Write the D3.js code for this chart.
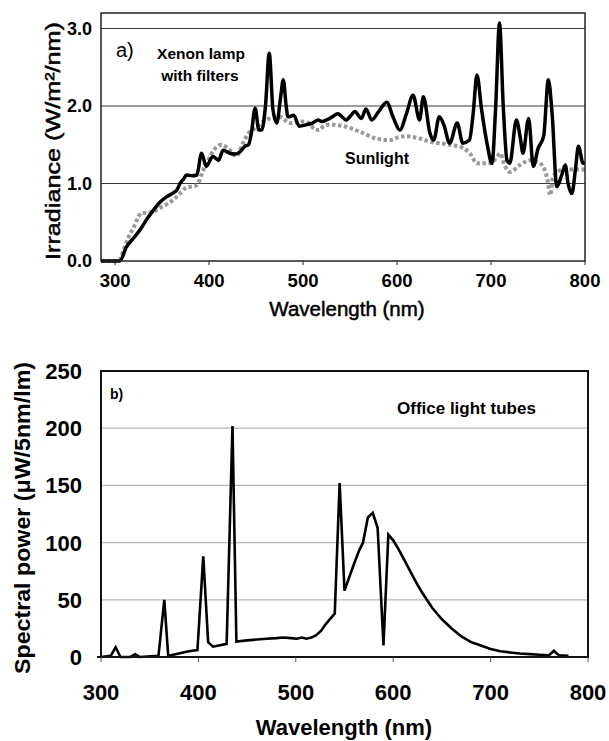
<!DOCTYPE html>
<html>
<head>
<meta charset="utf-8">
<script src="https://cdn.jsdelivr.net/npm/d3@7"></script>
<style>
body { margin: 0; background: #fff; }
svg { display: block; font-family: "Liberation Sans", Arial, sans-serif; }
</style>
</head>
<body>
<script>
// panel a: xenon lamp vs sunlight (W/m2/nm)
var xenonWl = [285, 300, 305, 312, 320, 327, 335, 341, 348, 355, 362, 366, 369, 373, 376, 382, 387, 392, 397, 404, 410, 415, 422, 428, 433, 438, 442, 445, 449, 453, 456, 460, 464, 468, 472, 476, 479, 482, 484, 490, 496, 504, 510, 516, 520, 525, 531, 537, 546, 551, 555, 562, 567, 573, 580, 589, 596, 603, 610, 617, 624, 628, 635, 639, 645, 650, 656, 664, 670, 677, 681, 685, 690, 696, 701, 705, 709, 713, 717, 720, 727, 731, 734, 740, 745, 750, 756, 761, 765, 770, 775, 779, 782, 786, 790, 793, 798, 800];
var xenonVal = [0, 0, 0, 0.18, 0.30, 0.41, 0.56, 0.66, 0.76, 0.83, 0.88, 0.92, 1.00, 1.06, 1.11, 1.10, 1.11, 1.39, 1.22, 1.35, 1.30, 1.43, 1.39, 1.38, 1.41, 1.48, 1.50, 1.65, 1.97, 1.69, 1.69, 2.00, 2.68, 1.95, 1.78, 2.10, 2.34, 2.00, 1.86, 1.88, 1.74, 1.76, 1.78, 1.82, 1.80, 1.82, 1.86, 1.90, 1.82, 1.88, 1.93, 1.84, 1.96, 1.82, 1.92, 2.05, 1.85, 1.69, 1.90, 2.14, 1.82, 2.12, 1.65, 1.56, 1.86, 1.75, 1.52, 1.78, 1.52, 1.56, 1.90, 2.40, 1.95, 1.50, 1.26, 2.00, 3.07, 2.00, 1.30, 1.26, 1.82, 1.60, 1.39, 1.84, 1.22, 1.45, 1.61, 2.34, 1.90, 0.96, 1.10, 1.24, 1.00, 0.87, 1.20, 1.48, 1.26, 1.26];

var sunWl = [285, 300, 305, 309, 314, 320, 324, 328, 334, 341, 350, 356, 362, 368, 375, 381, 387, 394, 399, 405, 413, 422, 429, 436, 442, 450, 458, 465, 475, 486, 500, 508, 512, 517, 522, 529, 543, 560, 578, 592, 602, 610, 624, 635, 656, 670, 678, 685, 699, 705, 710, 714, 720, 731, 741, 752, 757, 760, 763, 766, 777, 795, 800];
var sunVal = [0, 0, 0.02, 0.14, 0.30, 0.44, 0.55, 0.62, 0.62, 0.64, 0.70, 0.74, 0.79, 0.86, 0.94, 0.96, 0.98, 1.18, 1.30, 1.43, 1.50, 1.43, 1.35, 1.52, 1.65, 1.72, 1.80, 1.84, 1.86, 1.78, 1.80, 1.76, 1.70, 1.69, 1.74, 1.76, 1.74, 1.67, 1.58, 1.56, 1.60, 1.61, 1.58, 1.54, 1.50, 1.46, 1.38, 1.26, 1.26, 1.32, 1.39, 1.25, 1.15, 1.24, 1.30, 1.26, 1.18, 1.05, 0.85, 1.09, 1.18, 1.18, 1.18];

var aTicksX = [300, 400, 500, 600, 700, 800];
var aTicksY = [0, 1, 2, 3];

// panel b: office light tubes (uW/5nm/lm)
var tubeWl = [300, 310, 315, 320, 330, 335, 340, 359, 365, 369, 380, 390, 399, 405, 410, 415, 429, 435, 439, 450, 463, 470, 480, 487, 495, 501, 506, 511, 516, 521, 526, 531, 536, 540, 545, 550, 555, 560, 565, 569, 574, 579, 584, 590, 595, 600, 605, 610, 615, 620, 625, 630, 640, 650, 660, 670, 680, 690, 700, 710, 720, 730, 740, 750, 760, 765, 770, 780];
var tubeVal = [0, 1, 8.5, 0, 0, 2.5, 0, 1, 50, 1, 3, 5, 6, 88, 13, 9, 11.5, 202, 13.5, 14.5, 15.5, 16, 16.5, 17, 16.5, 16, 17, 16, 17, 19, 23, 29, 34, 38, 152, 58, 70, 82, 93, 100, 122, 126, 113, 10, 107, 102, 95, 87, 79, 71, 63, 56, 43, 33, 25, 18, 13, 10, 7, 5, 4, 3, 2.5, 2, 1.5, 5.5, 1.5, 1];

var bTicksX = [300, 400, 500, 600, 700, 800];
var bTicksY = [0, 50, 100, 150, 200, 250];

var svg = d3.select("body").append("svg")
    .attr("width", 609)
    .attr("height", 741);

// ---------- panel a ----------
var a = {left: 101, right: 585, top: 13, bottom: 261};

var ax = d3.scaleLinear().domain([285, 800]).range([a.left, a.right]);
var ay = d3.scaleLinear().domain([0, 3.2]).range([a.bottom, a.top]);

var ga = svg.append("g");

ga.selectAll("line.grid")
    .data(aTicksY.filter(d => d > 0))
    .enter().append("line")
    .attr("class", "grid")
    .attr("x1", a.left).attr("x2", a.right)
    .attr("y1", d => ay(d)).attr("y2", d => ay(d))
    .attr("stroke", "#3a3a3a")
    .attr("stroke-width", 1);

var xenon = xenonWl.map((w, i) => [w, xenonVal[i]]);
var sun = sunWl.map((w, i) => [w, sunVal[i]]);

var lineA = d3.line()
    .x(d => ax(d[0]))
    .y(d => ay(d[1]))
    .curve(d3.curveMonotoneX);

ga.append("path")
    .datum(sun)
    .attr("d", lineA)
    .attr("fill", "none")
    .attr("stroke", "#9a9a9a")
    .attr("stroke-width", 4)
    .attr("stroke-dasharray", "3.5,2.5");

ga.append("path")
    .datum(xenon)
    .attr("d", lineA)
    .attr("fill", "none")
    .attr("stroke", "#000")
    .attr("stroke-width", 3.5)
    .attr("stroke-linejoin", "round");

ga.append("rect")
    .attr("x", a.left).attr("y", a.top)
    .attr("width", a.right - a.left).attr("height", a.bottom - a.top)
    .attr("fill", "none")
    .attr("stroke", "#222")
    .attr("stroke-width", 1.5);

ga.selectAll("line.tick")
    .data(aTicksX)
    .enter().append("line")
    .attr("class", "tick")
    .attr("x1", d => ax(d)).attr("x2", d => ax(d))
    .attr("y1", a.bottom).attr("y2", a.bottom + 4)
    .attr("stroke", "#222");

ga.selectAll("text.xl")
    .data(aTicksX)
    .enter().append("text")
    .attr("class", "xl")
    .attr("x", d => ax(d))
    .attr("y", 287)
    .attr("text-anchor", "middle")
    .style("font-size", "18.5px")
    .style("font-weight", "bold")
    .text(d => d);

ga.selectAll("text.yl")
    .data(aTicksY)
    .enter().append("text")
    .attr("class", "yl")
    .attr("x", 92)
    .attr("y", d => ay(d))
    .attr("dy", "0.36em")
    .attr("text-anchor", "end")
    .style("font-size", "18px")
    .style("font-weight", "bold")
    .text(d => d3.format(".1f")(d));

// the scanned titles look heavier than plain regular weight
ga.append("text")
    .attr("x", 347).attr("y", 316)
    .attr("text-anchor", "middle")
    .attr("stroke", "#000").attr("stroke-width", 0.5)
    .style("font-size", "20.5px")
    .text("Wavelength (nm)");

ga.append("text")
    .attr("transform", "translate(60,141) rotate(-90)")
    .attr("text-anchor", "middle")
    .attr("textLength", 238)
    .attr("lengthAdjust", "spacingAndGlyphs")
    .attr("stroke", "#000").attr("stroke-width", 0.5)
    .style("font-size", "21px")
    .text("Irradiance (W/m²/nm)");

ga.append("text")
    .attr("x", 116).attr("y", 57)
    .style("font-size", "20px")
    .text("a)");

ga.append("text")
    .attr("x", 201).attr("y", 59)
    .attr("text-anchor", "middle")
    .style("font-size", "15.5px")
    .style("font-weight", "bold")
    .text("Xenon lamp");

ga.append("text")
    .attr("x", 200).attr("y", 81)
    .attr("text-anchor", "middle")
    .style("font-size", "15.5px")
    .style("font-weight", "bold")
    .text("with filters");

ga.append("text")
    .attr("x", 345).attr("y", 164)
    .style("font-size", "16px")
    .style("font-weight", "bold")
    .text("Sunlight");

// ---------- panel b ----------
var b = {left: 101, right: 588, top: 371, bottom: 657};

var bx = d3.scaleLinear().domain([300, 800]).range([b.left, b.right]);
var by = d3.scaleLinear().domain([0, 250]).range([b.bottom, b.top]);

var gb = svg.append("g");

gb.selectAll("line.grid")
    .data(bTicksY.filter(d => d > 0 && d < 250))
    .enter().append("line")
    .attr("class", "grid")
    .attr("x1", b.left).attr("x2", b.right)
    .attr("y1", d => by(d)).attr("y2", d => by(d))
    .attr("stroke", "#b8b8b8")
    .attr("stroke-width", 1.3);

var tubes = tubeWl.map((w, i) => [w, tubeVal[i]]);

gb.append("path")
    .datum(tubes)
    .attr("d", d3.line().x(d => bx(d[0])).y(d => by(d[1])))
    .attr("fill", "none")
    .attr("stroke", "#000")
    .attr("stroke-width", 2.6)
    .attr("stroke-linejoin", "miter");

gb.append("rect")
    .attr("x", b.left).attr("y", b.top)
    .attr("width", b.right - b.left).attr("height", b.bottom - b.top)
    .attr("fill", "none")
    .attr("stroke", "#111")
    .attr("stroke-width", 2);

gb.append("line")
    .attr("x1", b.left - 4).attr("x2", b.left)
    .attr("y1", b.bottom).attr("y2", b.bottom)
    .attr("stroke", "#111").attr("stroke-width", 2);

gb.selectAll("line.tick")
    .data(bTicksX)
    .enter().append("line")
    .attr("class", "tick")
    .attr("x1", d => bx(d)).attr("x2", d => bx(d))
    .attr("y1", b.bottom).attr("y2", b.bottom + 5)
    .attr("stroke", "#555");

gb.selectAll("text.xl")
    .data(bTicksX)
    .enter().append("text")
    .attr("class", "xl")
    .attr("x", d => bx(d))
    .attr("y", 700)
    .attr("text-anchor", "middle")
    .style("font-size", "22px")
    .style("font-weight", "bold")
    .text(d => d);

gb.selectAll("text.yl")
    .data(bTicksY)
    .enter().append("text")
    .attr("class", "yl")
    .attr("x", 82)
    .attr("y", d => by(d))
    .attr("dy", "0.36em")
    .attr("text-anchor", "end")
    .style("font-size", "22px")
    .style("font-weight", "bold")
    .text(d => d);

gb.append("text")
    .attr("x", 344).attr("y", 735)
    .attr("text-anchor", "middle")
    .style("font-size", "22px")
    .style("font-weight", "bold")
    .text("Wavelength (nm)");

gb.append("text")
    .attr("transform", "translate(30,518) rotate(-90)")
    .attr("text-anchor", "middle")
    .attr("textLength", 312)
    .attr("lengthAdjust", "spacingAndGlyphs")
    .style("font-size", "22px")
    .style("font-weight", "bold")
    .text("Spectral power (μW/5nm/lm)");

gb.append("text")
    .attr("x", 110).attr("y", 399)
    .style("font-size", "14px")
    .style("font-weight", "bold")
    .text("b)");

gb.append("text")
    .attr("x", 397).attr("y", 414)
    .style("font-size", "17px")
    .style("font-weight", "bold")
    .text("Office light tubes");
</script>
</body>
</html>
